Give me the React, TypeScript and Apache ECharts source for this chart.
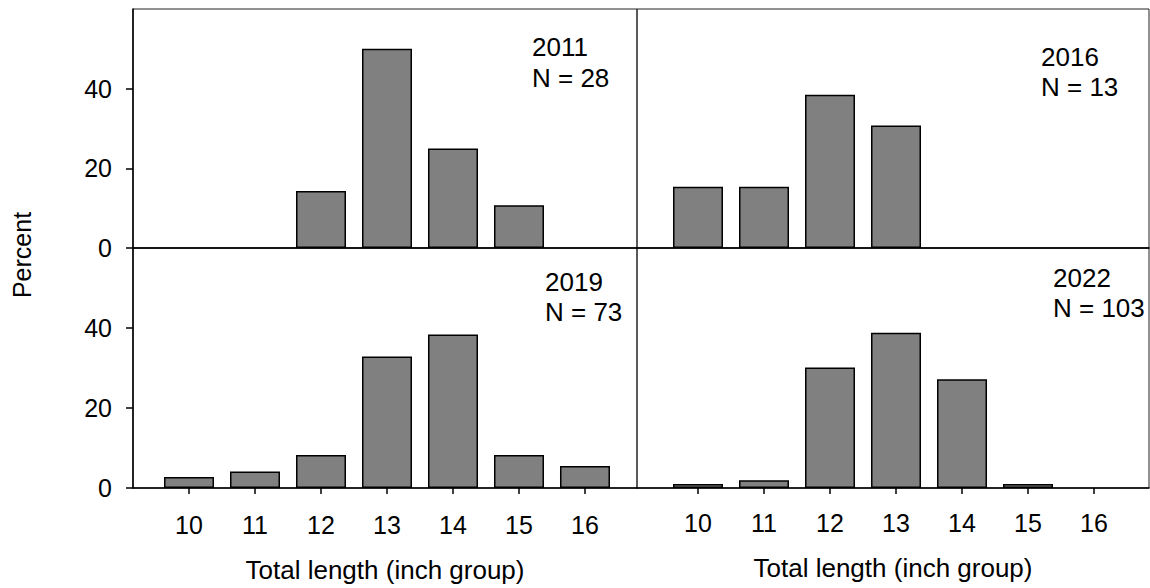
import React, { useEffect, useRef } from "react";
import * as echarts from "echarts";

const lengthGroups = [10, 11, 12, 13, 14, 15, 16];
const pct2011 = [0, 0, 14.29, 50.0, 25.0, 10.71, 0];
const pct2016 = [15.38, 15.38, 38.46, 30.77, 0, 0, 0];
const pct2019 = [2.74, 4.11, 8.22, 32.88, 38.36, 8.22, 5.48];
const pct2022 = [0.97, 1.94, 30.1, 38.83, 27.18, 0.97, 0];
const yTicks = [0, 20, 40];
const panelYears = ["2011", "2016", "2019", "2022"];
const panelN = ["N = 28", "N = 13", "N = 73", "N = 103"];
const xTitle = "Total length (inch group)";
const yTitle = "Percent";

const FONT = "'Liberation Sans', Arial, Helvetica, sans-serif";

export default function App() {
  const ref = useRef<HTMLDivElement>(null);
  useEffect(() => {
    if (!ref.current) return;
    const chart = echarts.init(ref.current, null, { renderer: "svg" });

    const grids = [
      { left: 133, top: 9, width: 504, height: 239 },
      { left: 637, top: 9, width: 512, height: 239 },
      { left: 133, top: 248, width: 504, height: 240 },
      { left: 637, top: 248, width: 512, height: 240 },
    ].map((g) => ({ ...g, show: true, borderColor: "#222", borderWidth: 1, backgroundColor: "transparent" }));

    const xRanges = [
      [9.1515, 16.788],
      [9.0758, 16.833],
      [9.1515, 16.788],
      [9.0758, 16.833],
    ];
    const isBottom = [false, false, true, true];
    const isLeft = [true, false, true, false];

    const xAxis = xRanges.map((r, i) => ({
      type: "value",
      gridIndex: i,
      min: r[0],
      max: r[1],
      axisLine: { show: true, onZero: false, lineStyle: { color: "#000", width: 1.5 } },
      axisTick: {
        show: isBottom[i],
        customValues: lengthGroups,
        length: 6,
        lineStyle: { color: "#000", width: 1.5 },
      },
      axisLabel: {
        show: isBottom[i],
        customValues: lengthGroups,
        fontSize: 25,
        fontFamily: FONT,
        color: "#000",
        margin: i === 3 ? 22 : 24,
      },
      splitLine: { show: false },
      name: isBottom[i] ? xTitle : "",
      nameLocation: "middle",
      nameGap: i === 3 ? 67 : 69,
      nameTextStyle: { fontSize: 26, fontFamily: FONT, color: "#000" },
    }));

    const yAxis = [0, 1, 2, 3].map((i) => ({
      type: "value",
      gridIndex: i,
      min: 0,
      max: 60,
      interval: 20,
      axisLine: { show: isLeft[i], lineStyle: { color: "#000", width: 1.5 } },
      axisTick: {
        show: isLeft[i],
        customValues: yTicks,
        length: 7,
        lineStyle: { color: "#000", width: 1.5 },
      },
      axisLabel: {
        show: isLeft[i],
        customValues: yTicks,
        fontSize: 25,
        fontFamily: FONT,
        color: "#000",
        margin: 21,
      },
      splitLine: { show: false },
    }));

    const allData = [pct2011, pct2016, pct2019, pct2022];
    const series = allData.map((vals, i) => ({
      type: "bar",
      xAxisIndex: i,
      yAxisIndex: i,
      barWidth: 50,
      data: lengthGroups
        .map((x, k) => [x, vals[k]])
        .filter((d) => d[1] > 0),
      itemStyle: { color: "#808080", borderColor: "#000", borderWidth: 1.5 },
      silent: true,
    }));

    const annPos = [
      { x: 532, y1: 47, y2: 78 },
      { x: 1041, y1: 57, y2: 87 },
      { x: 545, y1: 281.5, y2: 312 },
      { x: 1053, y1: 277.5, y2: 308 },
    ];
    const graphic: any[] = [];
    annPos.forEach((p, i) => {
      graphic.push({
        type: "text",
        x: p.x,
        y: p.y1,
        style: { text: panelYears[i], fontSize: 26, fontFamily: FONT, fill: "#000", align: "left", verticalAlign: "middle" },
      });
      graphic.push({
        type: "text",
        x: p.x,
        y: p.y2,
        style: { text: panelN[i], fontSize: 26, fontFamily: FONT, fill: "#000", align: "left", verticalAlign: "middle" },
      });
    });
    graphic.push({
      type: "text",
      x: 22,
      y: 255,
      rotation: Math.PI / 2,
      style: { text: yTitle, fontSize: 25, fontFamily: FONT, fill: "#000", align: "center", verticalAlign: "middle" },
    });

    chart.setOption({
      animation: false,
      backgroundColor: "#fff",
      grid: grids,
      xAxis,
      yAxis,
      series,
      graphic,
    });
    return () => chart.dispose();
  }, []);
  return (
    <div
      ref={ref}
      style={{ position: "fixed", left: 0, top: 0, width: 1150, height: 588 }}
    />
  );
}
